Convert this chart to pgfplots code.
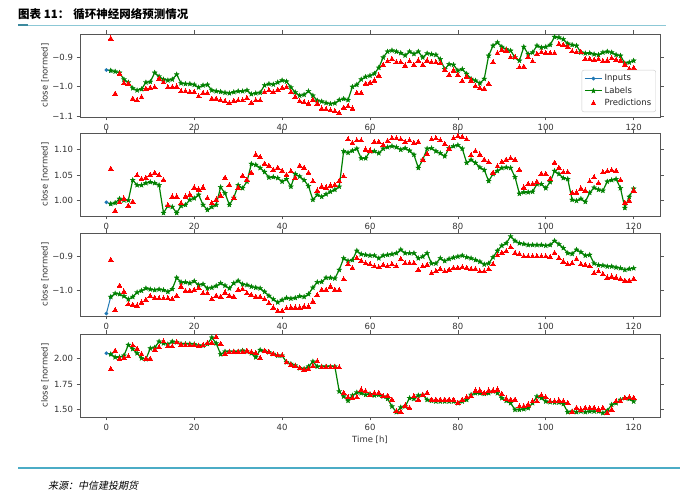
\documentclass[border=0pt]{standalone}
\usepackage{fontspec}
\setmainfont{DejaVu Sans}
\newfontfamily\cjk{Noto Sans CJK SC}
\newfontfamily\cjki[FakeSlant=0.2]{Noto Sans CJK SC}
\usepackage{pgfplots}
\usepackage{pgfplotstable}
\pgfplotsset{compat=1.18}
\definecolor{mplblue}{HTML}{1F77B4}
\definecolor{mplgreen}{HTML}{008000}
\definecolor{mplred}{HTML}{FF0000}
\definecolor{teal1}{HTML}{4BACC6}
\definecolor{teal2}{HTML}{8CC8D6}
\definecolor{axgray}{HTML}{555555}
\pgfdeclareplotmark{fstar}{%
\pgfpathmoveto{\pgfpointpolar{90}{\pgfplotmarksize}}%
\pgfpathlineto{\pgfpointpolar{126}{0.42\pgfplotmarksize}}%
\pgfpathlineto{\pgfpointpolar{162}{\pgfplotmarksize}}%
\pgfpathlineto{\pgfpointpolar{198}{0.42\pgfplotmarksize}}%
\pgfpathlineto{\pgfpointpolar{234}{\pgfplotmarksize}}%
\pgfpathlineto{\pgfpointpolar{270}{0.42\pgfplotmarksize}}%
\pgfpathlineto{\pgfpointpolar{306}{\pgfplotmarksize}}%
\pgfpathlineto{\pgfpointpolar{342}{0.42\pgfplotmarksize}}%
\pgfpathlineto{\pgfpointpolar{18}{\pgfplotmarksize}}%
\pgfpathlineto{\pgfpointpolar{54}{0.42\pgfplotmarksize}}%
\pgfpathclose\pgfusepathqfillstroke}

\pgfplotstableread{
t lab pred
1 -0.945 -0.836
2 -0.948 -1.024
3 -0.952 -0.956
4 -0.975 -0.988
5 -0.985 -0.990
6 -1.005 -1.041
7 -1.012 -1.047
8 -1.008 -1.036
9 -0.985 -1.007
10 -0.983 -1.004
11 -0.952 -1.002
12 -0.965 -0.973
13 -0.975 -0.985
14 -0.978 -1.002
15 -0.975 -1.002
16 -0.958 -1.000
17 -0.988 -1.016
18 -0.990 -1.016
19 -0.990 -1.019
20 -0.993 -1.019
21 -1.002 -1.033
22 -0.995 -1.022
23 -0.993 -1.022
24 -1.012 -1.041
25 -1.015 -1.041
26 -1.017 -1.047
27 -1.020 -1.050
28 -1.022 -1.056
29 -1.018 -1.049
30 -1.015 -1.047
31 -1.015 -1.047
32 -1.012 -1.039
33 -1.025 -1.055
34 -1.022 -1.047
35 -1.020 -1.047
36 -0.995 -1.019
37 -0.990 -1.013
38 -0.992 -1.019
39 -0.985 -1.011
40 -0.978 -1.005
41 -0.982 -1.002
42 -1.002 -1.019
43 -1.019 -1.035
44 -1.030 -1.050
45 -1.027 -1.053
46 -1.015 -1.058
47 -1.030 -1.045
48 -1.047 -1.058
49 -1.050 -1.075
50 -1.055 -1.077
51 -1.058 -1.081
52 -1.056 -1.084
53 -1.045 -1.090
54 -1.041 -1.072
55 -1.045 -1.067
56 -1.000 -1.075
57 -0.993 -1.022
58 -0.975 -1.022
59 -0.966 -0.990
60 -0.962 -0.987
61 -0.955 -0.979
62 -0.935 -0.962
63 -0.900 -0.926
64 -0.880 -0.914
65 -0.876 -0.906
66 -0.880 -0.917
67 -0.885 -0.917
68 -0.893 -0.928
69 -0.880 -0.914
70 -0.888 -0.926
71 -0.880 -0.911
72 -0.900 -0.926
73 -0.886 -0.911
74 -0.889 -0.917
75 -0.891 -0.917
76 -0.906 -0.920
77 -0.940 -0.943
78 -0.923 -0.960
79 -0.925 -0.945
80 -0.945 -0.960
81 -0.940 -0.981
82 -0.956 -0.966
83 -0.973 -0.979
84 -0.979 -0.998
85 -0.988 -1.005
86 -0.973 -1.007
87 -0.894 -0.990
88 -0.860 -0.917
89 -0.849 -0.886
90 -0.864 -0.875
91 -0.872 -0.877
92 -0.877 -0.900
93 -0.900 -0.900
94 -0.911 -0.934
95 -0.864 -0.932
96 -0.889 -0.900
97 -0.883 -0.914
98 -0.860 -0.889
99 -0.866 -0.883
100 -0.864 -0.886
101 -0.857 -0.886
102 -0.830 -0.886
103 -0.832 -0.855
104 -0.838 -0.857
105 -0.853 -0.864
106 -0.857 -0.880
107 -0.860 -0.883
108 -0.883 -0.883
109 -0.886 -0.906
110 -0.885 -0.906
111 -0.889 -0.909
112 -0.891 -0.906
113 -0.883 -0.914
114 -0.880 -0.911
115 -0.883 -0.903
116 -0.891 -0.909
117 -0.894 -0.911
118 -0.920 -0.925
119 -0.917 -0.940
120 -0.911 -0.936
}\tA

\pgfplotstableread{
t lab pred
1 0.993 1.062
2 0.995 0.979
3 1.003 0.996
4 1.000 1.003
5 1.000 0.989
6 1.040 0.997
7 1.030 1.049
8 1.030 1.042
9 1.034 1.044
10 1.036 1.050
11 1.034 1.054
12 1.030 1.049
13 0.975 1.040
14 0.989 0.990
15 0.987 1.007
16 0.975 1.007
17 0.989 0.994
18 0.991 1.007
19 1.001 1.011
20 1.004 1.025
21 1.011 1.021
22 0.991 1.025
23 0.981 1.004
24 0.987 0.994
25 0.991 1.001
26 1.026 1.009
27 1.014 1.044
28 0.991 1.030
29 1.005 1.004
30 1.030 1.024
31 1.024 1.048
32 1.037 1.040
33 1.072 1.054
34 1.070 1.090
35 1.064 1.085
36 1.056 1.072
37 1.045 1.068
38 1.046 1.060
39 1.044 1.064
40 1.037 1.058
41 1.042 1.050
42 1.027 1.057
43 1.052 1.044
44 1.047 1.068
45 1.040 1.064
46 1.028 1.054
47 1.001 1.037
48 1.011 1.019
49 1.007 1.027
50 1.012 1.025
51 1.017 1.029
52 1.021 1.030
53 1.027 1.038
54 1.097 1.047
55 1.094 1.120
56 1.098 1.113
57 1.102 1.118
58 1.083 1.118
59 1.083 1.100
60 1.097 1.098
61 1.097 1.115
62 1.093 1.115
63 1.102 1.109
64 1.105 1.117
65 1.107 1.122
66 1.105 1.122
67 1.100 1.120
68 1.103 1.115
69 1.098 1.118
70 1.090 1.113
71 1.064 1.115
72 1.080 1.080
73 1.102 1.091
74 1.103 1.120
75 1.097 1.122
76 1.093 1.118
77 1.087 1.111
78 1.103 1.102
79 1.107 1.122
80 1.109 1.126
81 1.102 1.125
82 1.074 1.120
83 1.080 1.089
84 1.074 1.097
85 1.065 1.090
86 1.060 1.080
87 1.038 1.075
88 1.052 1.054
89 1.058 1.067
90 1.064 1.075
91 1.065 1.080
92 1.064 1.083
93 1.046 1.080
94 1.013 1.060
95 1.016 1.025
96 1.016 1.032
97 1.017 1.032
98 1.032 1.036
99 1.032 1.052
100 1.024 1.052
101 1.036 1.042
102 1.058 1.074
103 1.052 1.064
104 1.044 1.055
105 1.042 1.055
106 1.001 1.014
107 0.999 1.015
108 1.003 1.023
109 0.997 1.019
110 1.015 1.037
111 1.025 1.045
112 1.021 1.034
113 1.019 1.055
114 1.037 1.057
115 1.040 1.059
116 1.042 1.058
117 1.024 1.040
118 0.985 0.995
119 1.007 0.999
120 1.023 1.019
}\tB

\pgfplotstableread{
t lab pred
1 -1.018 -0.910
2 -1.008 -1.057
3 -1.010 -0.986
4 -1.016 -1.003
5 -1.025 -1.040
6 -1.018 -1.042
7 -1.005 -1.044
8 -1.000 -1.035
9 -0.993 -1.027
10 -0.996 -1.016
11 -0.998 -1.021
12 -0.996 -1.023
13 -0.998 -1.023
14 -1.003 -1.023
15 -0.995 -1.025
16 -0.962 -1.015
17 -0.975 -0.988
18 -0.975 -1.001
19 -0.978 -1.001
20 -0.972 -0.998
21 -0.983 -0.993
22 -0.981 -1.008
23 -0.993 -1.008
24 -0.991 -1.025
25 -0.986 -1.015
26 -0.978 -1.018
27 -0.985 -1.006
28 -0.993 -1.015
29 -0.978 -1.018
30 -0.971 -0.998
31 -0.981 -0.996
32 -0.983 -1.008
33 -0.988 -1.013
34 -0.991 -1.018
35 -0.993 -1.018
36 -1.003 -1.025
37 -1.015 -1.037
38 -1.025 -1.050
39 -1.034 -1.060
40 -1.027 -1.060
41 -1.021 -1.052
42 -1.023 -1.050
43 -1.021 -1.050
44 -1.016 -1.050
45 -1.018 -1.047
46 -1.010 -1.047
47 -0.991 -1.032
48 -0.975 -1.013
49 -0.974 -0.998
50 -0.962 -0.998
51 -0.962 -0.988
52 -0.964 -0.998
53 -0.939 -0.998
54 -0.905 -0.967
55 -0.913 -0.923
56 -0.910 -0.934
57 -0.883 -0.905
58 -0.893 -0.913
59 -0.895 -0.920
60 -0.897 -0.923
61 -0.897 -0.929
62 -0.905 -0.932
63 -0.897 -0.925
64 -0.895 -0.929
65 -0.893 -0.923
66 -0.890 -0.929
67 -0.880 -0.908
68 -0.890 -0.920
69 -0.890 -0.920
70 -0.890 -0.920
71 -0.905 -0.939
72 -0.900 -0.929
73 -0.890 -0.925
74 -0.920 -0.949
75 -0.920 -0.944
76 -0.905 -0.937
77 -0.913 -0.944
78 -0.907 -0.939
79 -0.903 -0.934
80 -0.900 -0.934
81 -0.897 -0.932
82 -0.902 -0.934
83 -0.905 -0.937
84 -0.910 -0.937
85 -0.915 -0.944
86 -0.923 -0.944
87 -0.920 -0.937
88 -0.902 -0.923
89 -0.883 -0.897
90 -0.868 -0.890
91 -0.861 -0.885
92 -0.841 -0.873
93 -0.854 -0.890
94 -0.861 -0.893
95 -0.863 -0.900
96 -0.866 -0.900
97 -0.866 -0.900
98 -0.866 -0.900
99 -0.866 -0.900
100 -0.868 -0.900
101 -0.866 -0.902
102 -0.854 -0.890
103 -0.864 -0.905
104 -0.875 -0.915
105 -0.890 -0.923
106 -0.892 -0.920
107 -0.880 -0.908
108 -0.887 -0.923
109 -0.897 -0.925
110 -0.895 -0.929
111 -0.920 -0.949
112 -0.925 -0.944
113 -0.926 -0.952
114 -0.929 -0.962
115 -0.929 -0.959
116 -0.932 -0.962
117 -0.934 -0.966
118 -0.939 -0.971
119 -0.936 -0.971
120 -0.934 -0.966
}\tC

\pgfplotstableread{
t lab pred
1 2.042 1.896
2 2.013 2.075
3 2.013 1.997
4 2.029 2.000
5 2.133 2.020
6 2.094 2.127
7 2.052 2.094
8 2.003 2.042
9 1.994 1.997
10 2.100 1.997
11 2.107 2.084
12 2.166 2.110
13 2.149 2.166
14 2.140 2.117
15 2.166 2.117
16 2.159 2.159
17 2.143 2.133
18 2.143 2.127
19 2.143 2.127
20 2.140 2.127
21 2.127 2.117
22 2.127 2.127
23 2.143 2.149
24 2.205 2.149
25 2.149 2.208
26 2.042 2.143
27 2.068 2.042
28 2.068 2.062
29 2.068 2.062
30 2.068 2.062
31 2.078 2.062
32 2.068 2.075
33 2.052 2.062
34 2.013 2.052
35 2.084 2.003
36 2.075 2.075
37 2.062 2.062
38 2.045 2.045
39 2.029 2.029
40 2.029 2.029
41 1.964 1.964
42 1.948 1.938
43 1.932 1.922
44 1.906 1.906
45 1.899 1.890
46 1.922 1.896
47 1.971 1.922
48 1.922 1.971
49 1.922 1.912
50 1.922 1.912
51 1.922 1.912
52 1.922 1.912
53 1.679 1.912
54 1.630 1.662
55 1.588 1.620
56 1.640 1.610
57 1.669 1.620
58 1.662 1.695
59 1.646 1.679
60 1.653 1.640
61 1.640 1.662
62 1.646 1.662
63 1.630 1.630
64 1.607 1.636
65 1.532 1.597
66 1.477 1.484
67 1.523 1.477
68 1.532 1.539
69 1.614 1.516
70 1.607 1.630
71 1.640 1.597
72 1.646 1.640
73 1.597 1.662
74 1.588 1.597
75 1.581 1.597
76 1.581 1.597
77 1.581 1.597
78 1.581 1.597
79 1.581 1.597
80 1.565 1.565
81 1.581 1.597
82 1.597 1.620
83 1.646 1.630
84 1.662 1.685
85 1.662 1.685
86 1.656 1.662
87 1.662 1.685
88 1.679 1.685
89 1.662 1.695
90 1.614 1.653
91 1.588 1.607
92 1.565 1.597
93 1.500 1.597
94 1.500 1.532
95 1.506 1.532
96 1.516 1.549
97 1.565 1.581
98 1.630 1.581
99 1.614 1.640
100 1.581 1.620
101 1.575 1.581
102 1.571 1.581
103 1.571 1.588
104 1.556 1.581
105 1.477 1.565
106 1.484 1.477
107 1.477 1.516
108 1.484 1.500
109 1.477 1.516
110 1.484 1.516
111 1.484 1.516
112 1.484 1.500
113 1.468 1.516
114 1.490 1.468
115 1.549 1.500
116 1.565 1.581
117 1.597 1.581
118 1.614 1.614
119 1.607 1.620
120 1.581 1.614
}\tD

\pgfplotsset{
  panel/.style={
    scale only axis, width=580pt, height=83pt,
    xmin=-6, xmax=126, xtick={0,20,40,60,80,100,120},
    tick align=outside, major tick length=3.5pt,
    every tick/.style={axgray, line width=0.6pt},
    axis line style={axgray, line width=0.7pt},
    tick label style={font=\fontsize{8.5}{10}\selectfont, text=black!80},
    /pgf/number format/assume math mode=true,
    ylabel={close [normed]},
    every axis y label/.style={at={(rel axis cs:0,0.5)}, rotate=90, anchor=center, yshift=35pt, font=\fontsize{8.5}{10}\selectfont, text=black!80},
  },
  inp/.style={color=mplblue, line width=1pt, mark=*, mark size=1.3pt},
  labs/.style={color=mplgreen, line width=1.2pt, mark=fstar, mark size=2.6pt, mark options={line width=0.3pt}},
  preds/.style={only marks, color=mplred, mark=triangle*, mark size=2.8pt, mark options={line width=0pt}},
}

\begin{document}
\begin{tikzpicture}
\path[use as bounding box] (0pt,0pt) rectangle (700pt,502pt);
% title
\node[anchor=west, inner sep=0pt] at (18pt,488pt) {\fontsize{11.5}{13}\selectfont\cjk\bfseries 图表 11：\hspace{4pt}循环神经网络预测情况};
\draw[teal2, line width=0.9pt] (18pt,477pt) -- (666pt,477pt);
\draw[teal1!80!black, line width=1.4pt] (18pt,477pt) -- (28pt,477pt);
% footer
\draw[teal1, line width=2pt] (18pt,34pt) -- (680pt,34pt);
\node[anchor=west, inner sep=0pt] at (48pt,16pt) {\fontsize{10}{12}\selectfont\cjki 来源：中信建投期货};

% panel 1
\begin{axis}[panel, at={(80pt,385pt)}, anchor=south west,
  ymin=-1.103, ymax=-0.82, ytick={-1.1,-1.0,-0.9}, yticklabels={−1.1,−1.0,−0.9},
  legend style={at={(0.993,0.06)}, anchor=south east, draw=black!20, rounded corners=2pt,
    font=\fontsize{8.5}{10}\selectfont, text=black!85, fill=white, inner sep=2.5pt, row sep=0.5pt},
  legend cell align=left]
\addplot[inp] coordinates {(0,-0.943) (1,-0.945)};
\addlegendentry{Inputs}
\addplot[labs] table[x=t, y=lab] {\tA};
\addlegendentry{Labels}
\addplot[preds] table[x=t, y=pred] {\tA};
\addlegendentry{Predictions}
\end{axis}

% panel 2
\begin{axis}[panel, at={(80pt,286pt)}, anchor=south west,
  ymin=0.969, ymax=1.133, ytick={1.00,1.05,1.10}, yticklabels={1.00,1.05,1.10}]
\addplot[inp] coordinates {(0,0.996) (1,0.993)};
\addplot[labs] table[x=t, y=lab] {\tB};
\addplot[preds] table[x=t, y=pred] {\tB};
\end{axis}

% panel 3
\begin{axis}[panel, at={(80pt,186pt)}, anchor=south west,
  ymin=-1.074, ymax=-0.831, ytick={-1.0,-0.9}, yticklabels={−1.0,−0.9}]
\addplot[inp] coordinates {(0,-1.067) (1,-1.018)};
\addplot[labs] table[x=t, y=lab] {\tC};
\addplot[preds] table[x=t, y=pred] {\tC};
\end{axis}

% panel 4
\begin{axis}[panel, at={(80pt,85pt)}, anchor=south west,
  ymin=1.429, ymax=2.24, ytick={1.5,1.75,2.0}, yticklabels={1.50,1.75,2.00},
  xlabel={Time [h]},
  every axis x label/.style={at={(rel axis cs:0.5,0)}, anchor=center, yshift=-23pt, font=\fontsize{8.5}{10}\selectfont, text=black!80}]
\addplot[inp] coordinates {(0,2.052) (1,2.042)};
\addplot[labs] table[x=t, y=lab] {\tD};
\addplot[preds] table[x=t, y=pred] {\tD};
\end{axis}
\end{tikzpicture}
\end{document}
